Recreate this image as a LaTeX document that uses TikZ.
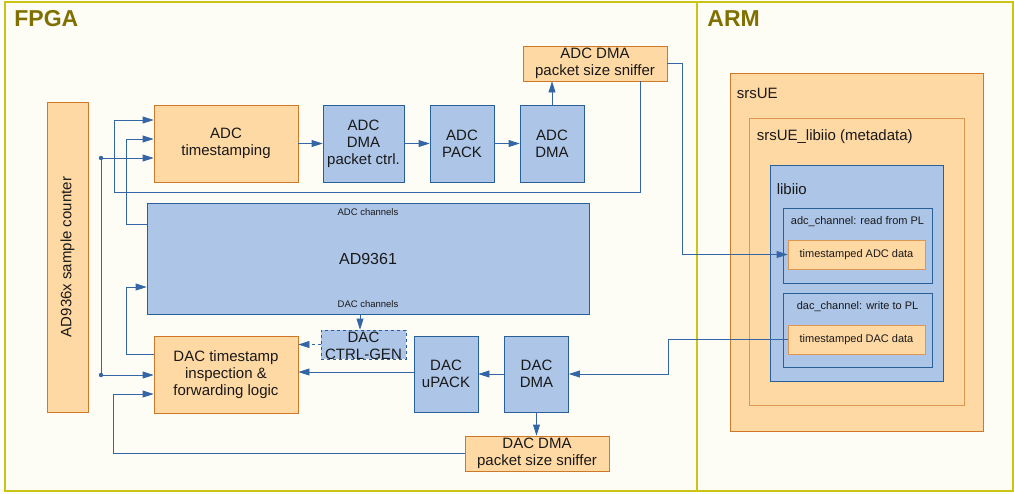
\documentclass[tikz,border=0pt]{standalone}
\usepackage{fontspec}
\setmainfont{Liberation Sans}
\usetikzlibrary{arrows.meta,positioning}
\definecolor{panelline}{RGB}{204,196,20}
\definecolor{panelfill}{RGB}{253,253,246}
\definecolor{paneltext}{RGB}{128,112,0}
\definecolor{boxblue}{RGB}{173,197,231}
\definecolor{edgeblue}{RGB}{42,96,153}
\definecolor{boxorange}{RGB}{255,217,164}
\definecolor{edgeorange}{RGB}{207,120,40}
\definecolor{edgeorangelt}{RGB}{222,150,80}
\definecolor{linkblue}{RGB}{52,101,164}
\definecolor{inktext}{RGB}{25,25,25}

\begin{document}
\begin{tikzpicture}[x=1pt,y=-1pt,
  wh/.style 2 args={minimum width=#1pt, minimum height=#2pt},
  panel/.style={draw=panelline, line width=1.6pt, fill=panelfill, inner sep=0pt},
  blk/.style={draw=edgeblue, line width=0.8pt, fill=boxblue, text=inktext, inner sep=1pt, align=center, font=\fontsize{15}{17}\selectfont},
  ora/.style={draw=edgeorange, line width=0.8pt, fill=boxorange, text=inktext, inner sep=1pt, align=center, font=\fontsize{15}{17}\selectfont},
  link/.style={draw=linkblue, line width=0.8pt, -{Triangle[length=11pt,width=7pt]}},
  wire/.style={draw=linkblue, line width=0.8pt},
  small/.style={text=inktext, inner sep=0pt, font=\fontsize{9.5}{11}\selectfont},
  mid/.style={text=inktext, inner sep=0pt, font=\fontsize{11}{13}\selectfont},
  big/.style={text=inktext, inner sep=0pt, font=\fontsize{15}{17}\selectfont},
  title/.style={text=paneltext, inner sep=0pt, anchor=west, font=\fontsize{23}{26}\selectfont\bfseries}
]
\useasboundingbox (0,0) rectangle (1014,493);

% Panels
\node[panel, wh={692}{489}] (fpga) at (351,246.5) {};
\node[panel, wh={316}{489}] (arm) at (855,246.5) {};
\node[title] at ([shift={(10,17)}]fpga.north west) {FPGA};
\node[title] at ([shift={(11,17)}]arm.north west) {ARM};

% ARM side: nested software layers
\node[ora, wh={253}{358}] (srsue) at (856.5,252) {};
\node[ora, draw=edgeorangelt, wh={215}{287}] (libiiometa) at (856.5,261.5) {};
\node[blk, wh={173}{216}] (libiio) at (856.5,273) {};
\node[blk, wh={149}{75}] (adcch) at (857.5,245.5) {};
\node[blk, wh={149}{74}] (dacch) at (857.5,330) {};
\node[ora, draw=edgeorangelt, wh={137}{29}, font=\fontsize{11}{13}\selectfont] (adcdata) at (856.5,254.5) {timestamped ADC data};
\node[ora, draw=edgeorangelt, wh={137}{29}, font=\fontsize{11}{13}\selectfont] (dacdata) at (856.5,339.5) {timestamped DAC data};
\node[big, anchor=west] at ([shift={(7,21)}]srsue.north west) {srsUE};
\node[big, anchor=west] at ([shift={(8,19)}]libiiometa.north west) {srsUE\_libiio (metadata)};
\node[big, anchor=west] at ([shift={(7,25)}]libiio.north west) {libiio};
\node[mid] at ([yshift=-14pt]adcch.north) {adc\_channel: read from PL};
\node[mid] at ([yshift=-14pt]dacch.north) {dac\_channel: write to PL};

% FPGA side
\node[ora, rotate=90, wh={310}{41}] (counter) at (67.5,257) {AD936x sample counter};
\node[ora, wh={144}{77}] (adcts) at (226,143.5) {ADC\\timestamping};
\node[blk, wh={81}{77}] (pktctrl) at (363.5,143.5) {ADC\\DMA\\packet ctrl.};
\node[blk, wh={64}{77}] (adcpack) at (462,143.5) {ADC\\PACK};
\node[blk, wh={64}{77}] (adcdma) at (552,143.5) {ADC\\DMA};
\node[ora, wh={144}{35}] (adcsniff) at (595,63.5) {ADC DMA\\packet size sniffer};
\node[blk, wh={442}{111}, font=\fontsize{16}{18}\selectfont] (ad9361) at (368,258.5) {AD9361};
\node[small] at ([yshift=-9pt]ad9361.north) {ADC channels};
\node[small] at ([yshift=10pt]ad9361.south) {DAC channels};
\node[ora, wh={144}{77}] (dacts) at (226,374.5) {DAC timestamp\\inspection \&\\forwarding logic};
\node[blk, dashed, wh={85}{29},
  label={[big, align=center, yshift=-1pt]center:{DAC\\CTRL-GEN}}] (ctrlgen) at (363.5,344.5) {};
\node[blk, wh={64}{76}] (upack) at (446,374) {DAC\\uPACK};
\node[blk, wh={64}{76}] (dacdma) at (536.5,374) {DAC\\DMA};
\node[ora, wh={144}{35}] (dacsniff) at (537,453.5) {DAC DMA\\packet size sniffer};

% ADC chain
\draw[link] (adcts.east) -- (pktctrl.west);
\draw[link] (pktctrl.east) -- (adcpack.west);
\draw[link] (adcpack.east) -- (adcdma.west);
\draw[link] (adcdma.north) -- (adcdma.north |- adcsniff.south);
\draw[link] ([xshift=45pt]adcsniff.south) |- (114,192) |- ([yshift=23.5pt]adcts.west);
\draw[link] ([yshift=34.5pt]ad9361.west) -- ++(-20,0) |- ([yshift=4.5pt]adcts.west);

% sample counter taps
\coordinate (tapa) at (101,158);
\coordinate (tapb) at (101,375);
\draw[wire] (tapa) -- (tapb);
\draw[link] (tapa) -- (tapa -| adcts.west);
\draw[link] (tapb) -- (tapb -| dacts.west);
\fill[linkblue] (tapa) circle (2.2pt);
\fill[linkblue] (tapb) circle (2.2pt);

% DAC chain
\draw[link] ([yshift=20.5pt]dacts.west) -- ++(-27,0) |- ([yshift=-28.5pt]ad9361.west);
\draw[link] ([xshift=-3.5pt]ctrlgen.north |- ad9361.south) -- ([xshift=-3.5pt]ctrlgen.north);
\draw[link, dashed] (ctrlgen.west) -- (ctrlgen.west -| dacts.east);
\draw[link] ([yshift=2pt]upack.west) -- ([yshift=2pt]upack.west -| dacts.east);
\draw[link] (dacdma.west) -- (upack.east);
\draw[link] (dacdma.south) -- (dacdma.south |- dacsniff.north);
\draw[link] (dacsniff.west) -- ++(-351,0) |- ([yshift=-19.5pt]dacts.west);

% FPGA <-> ARM
\draw[link] (adcsniff.east) -- ++(15,0) |- (adcdata.west);
\draw[link] (dacdata.west) -- ++(-119,0) |- (dacdma.east);
\end{tikzpicture}
\end{document}
